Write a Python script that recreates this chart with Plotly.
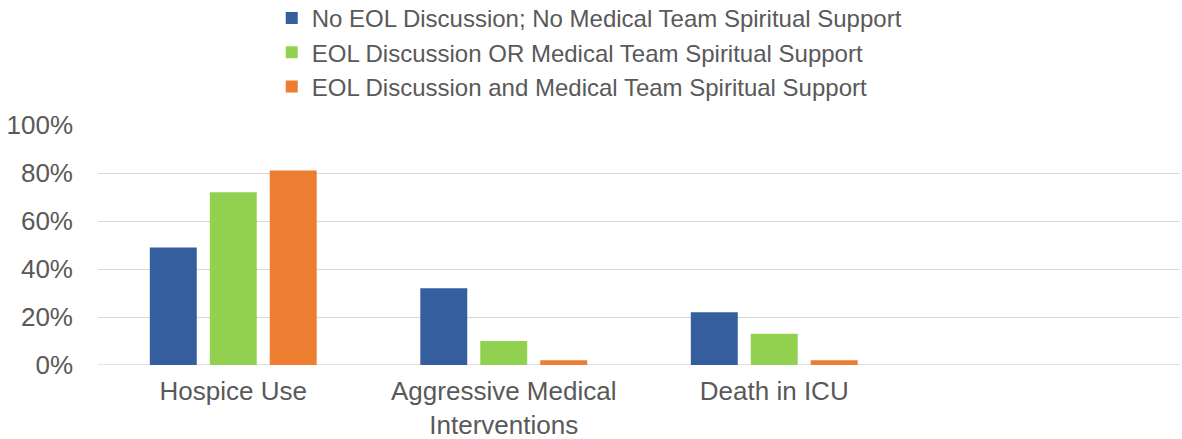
import plotly.graph_objects as go

categories = ["Hospice Use", "Aggressive Medical<br>Interventions", "Death in ICU", " "]
series_names = [
    "No EOL Discussion; No Medical Team Spiritual Support",
    "EOL Discussion OR Medical Team Spiritual Support",
    "EOL Discussion and Medical Team Spiritual Support",
]
no_support = [0.49, 0.32, 0.22, None]
either_support = [0.72, 0.10, 0.13, None]
both_support = [0.81, 0.02, 0.02, None]
colors = ["#355E9F", "#92D050", "#ED7D31"]
tick_vals = [0, 0.2, 0.4, 0.6, 0.8, 1.0]
tick_text = ["0%", "20%", "40%", "60%", "80%", "100%"]

fig = go.Figure()
for name, vals, col in zip(series_names, [no_support, either_support, both_support], colors):
    fig.add_trace(go.Bar(x=categories, y=vals, name=name, marker=dict(color=col, line=dict(width=0))))

font = "Liberation Sans, Arial, sans-serif"
fig.update_layout(
    width=1182, height=439,
    margin=dict(l=98, r=2, t=125, b=74, autoexpand=False),
    paper_bgcolor="white", plot_bgcolor="white",
    barmode="group", bargap=0.335, bargroupgap=0.217,
    font=dict(family=font, size=24, color="#595959"),
    legend=dict(orientation="v", x=0.454, xanchor="center", y=1.5375, yanchor="top",
                font=dict(size=24, color="#595959"),
                itemwidth=30, tracegroupgap=0),
    showlegend=True,
)
fig.update_xaxes(showgrid=False, showline=False, ticks="", automargin=False,
                 tickfont=dict(size=26, color="#595959"), ticklabelstandoff=8)
fig.update_yaxes(range=[0, 1], tickvals=tick_vals, ticktext=tick_text, showgrid=True,
                 gridcolor="#D9D9D9", gridwidth=1.3, zeroline=False, showline=False, automargin=False,
                 tickfont=dict(size=26, color="#595959"), ticklabelstandoff=24)
fig.add_shape(type="line", xref="paper", yref="y", x0=0, x1=1, y0=0, y1=0,
              line=dict(color="#D9D9D9", width=1.3), layer="below")
fig.write_html("out.html", config={"displayModeBar": False},
               post_script="document.body.style.margin='0';document.body.style.overflow='hidden';")
